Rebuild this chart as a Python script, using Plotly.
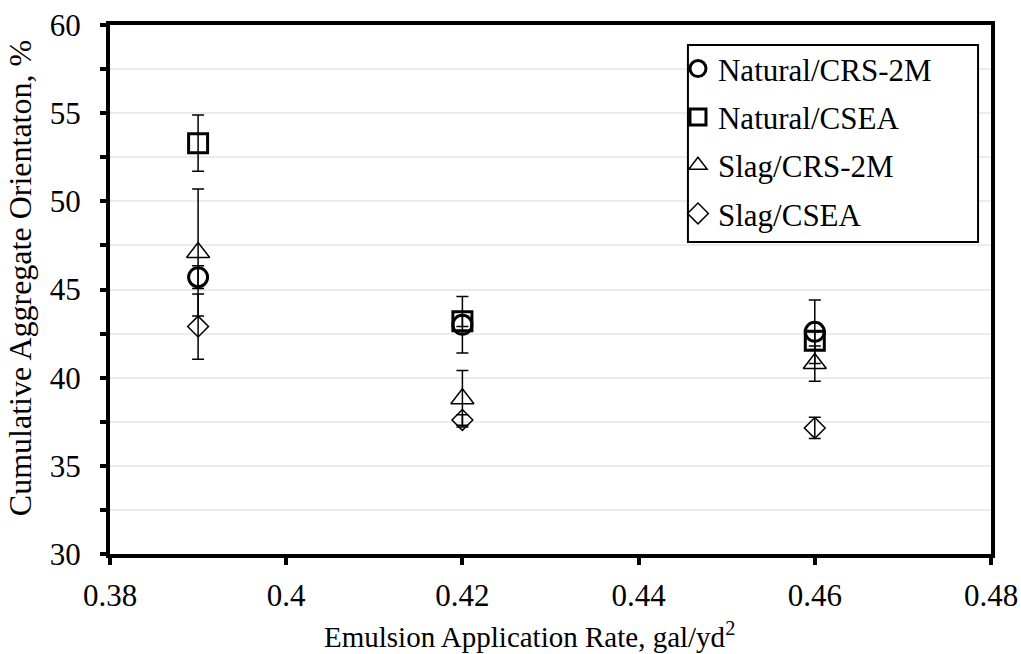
import plotly.graph_objects as go

# Data
rates = [0.39, 0.42, 0.46]

natural_crs2m = [45.7, 43.0, 42.6]
natural_crs2m_err = [0.65, 1.6, 1.8]

natural_csea = [53.3, 43.2, 42.1]
natural_csea_err = [1.6, 0.3, 0.5]

slag_crs2m = [47.1, 38.8, 40.8]
slag_crs2m_err = [3.6, 1.6, 1.0]

slag_csea = [42.9, 37.6, 37.15]
slag_csea_err = [1.85, 0.3, 0.6]

series_names = ["Natural/CRS-2M", "Natural/CSEA", "Slag/CRS-2M", "Slag/CSEA"]
series_vals = [natural_crs2m, natural_csea, slag_crs2m, slag_csea]
series_errs = [natural_crs2m_err, natural_csea_err, slag_crs2m_err, slag_csea_err]

symbols = ["circle-open", "square-open", "triangle-up-open", "diamond-open"]
sizes = [19, 19, 20, 16]
line_widths = [3, 3, 1.5, 1.5]

FONT = "Liberation Serif, Times New Roman, serif"

fig = go.Figure()
for i, (name, vals, errs) in enumerate(zip(series_names, series_vals, series_errs)):
    fig.add_trace(go.Scatter(
        x=rates, y=vals, name=name, mode="markers",
        legendgroup=f"g{i}",
        marker=dict(symbol=symbols[i], size=sizes[i], color="black",
                    line=dict(color="black", width=line_widths[i])),
        error_y=dict(type="data", array=errs, visible=True,
                     color="black", thickness=1.5, width=6),
    ))

fig.update_layout(
    width=1021, height=654,
    margin=dict(l=110, r=30, t=25, b=100),
    paper_bgcolor="white", plot_bgcolor="white",
    font=dict(family=FONT, color="black", size=31),
    showlegend=True,
    legend=dict(
        x=0.6447, xanchor="left", y=0.968, yanchor="top",
        borderwidth=0, bgcolor="rgba(0,0,0,0)",
        font=dict(family=FONT, size=31, color="black"),
        itemwidth=30, tracegroupgap=5,
    ),
    # legend frame (the reference's box is wider than the entries)
    shapes=[
        dict(type="rect", xref="paper", yref="paper",
             x0=0.656, x1=0.9853, y0=0.5898, y1=0.9622,
             line=dict(color="black", width=2), fillcolor="white",
             layer="above"),
    ],
    xaxis=dict(
        range=[0.38, 0.48], dtick=0.02, tick0=0.38,
        showgrid=False, zeroline=False, automargin=False,
        showline=True, linecolor="black", linewidth=4, mirror=True,
        ticks="outside", ticklen=7, tickwidth=4, tickcolor="black",
        tickfont=dict(family=FONT, size=31), ticklabelstandoff=4,
    ),
    yaxis=dict(
        range=[30, 60], dtick=5, tick0=30,
        showgrid=True, gridcolor="#ebebeb", gridwidth=2,
        zeroline=False, automargin=False,
        showline=True, linecolor="black", linewidth=4, mirror=True,
        ticks="outside", ticklen=6, tickwidth=4, tickcolor="black",
        tickfont=dict(family=FONT, size=31), ticklabelstandoff=13,
        minor=dict(dtick=2.5, ticks="outside", ticklen=6, tickwidth=4,
                   tickcolor="black", showgrid=True, gridcolor="#ebebeb",
                   gridwidth=2),
    ),
    annotations=[
        dict(text="Emulsion Application Rate, gal/yd<sup>2</sup>",
             xref="paper", yref="paper", x=0.4767, y=-0.153,
             xanchor="center", yanchor="middle", showarrow=False,
             font=dict(family=FONT, size=29, color="black")),
        dict(text="Cumulative Aggregate Orientaton, %",
             xref="paper", yref="paper", x=-0.102, y=0.5217,
             xanchor="center", yanchor="middle", showarrow=False,
             textangle=-90,
             font=dict(family=FONT, size=32, color="black")),
    ],
)

fig.write_html("out.html",
               config={"displayModeBar": False},
               post_script="document.body.style.margin='0';")
